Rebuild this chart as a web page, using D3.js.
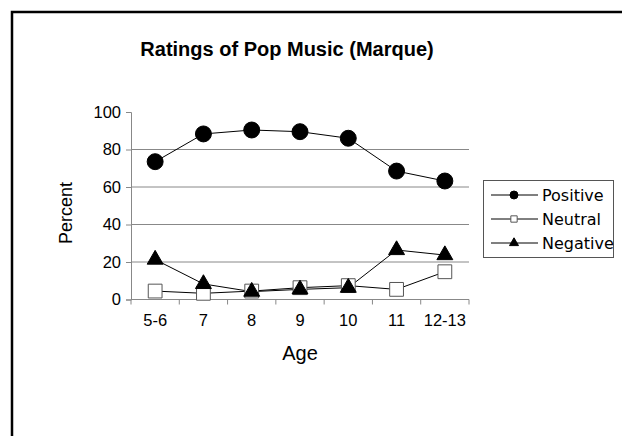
<!DOCTYPE html>
<html><head><meta charset="utf-8">
<script src="https://cdn.jsdelivr.net/npm/d3@7"></script>
<style>html,body{margin:0;padding:0;background:#fff;}</style>
</head><body>
<script>
const ages = ["5-6","7","8","9","10","11","12-13"];
const positive = [73.5, 88.3, 90.4, 89.5, 86.0, 68.5, 63.2];
const neutral  = [4.5, 3.3, 4.5, 6.3, 7.4, 5.4, 14.8];
const negative = [21.3, 8.3, 4.2, 5.4, 6.3, 26.4, 23.7];
const yTicks = [0, 20, 40, 60, 80, 100];
const seriesNames = ["Positive","Neutral","Negative"];

const W = 622, H = 436;
const svg = d3.select("body").append("svg").attr("width", W).attr("height", H);
const font = "'Liberation Sans', Arial, sans-serif";
const legFont = "'DejaVu Sans', sans-serif";

// frame
svg.append("path").attr("d", `M12,${H+5} L12,12 L${W+5},12`).attr("fill","none").attr("stroke","#000").attr("stroke-width",2.5);

const x = d3.scaleBand().domain(ages).range([131, 469]);
const y = d3.scaleLinear().domain([0,100]).range([299.5, 112]);

// title
svg.append("text").attr("x", 287).attr("y", 56).attr("text-anchor","middle")
  .attr("font-family",font).attr("font-weight","bold").attr("font-size",20)
  .text("Ratings of Pop Music (Marque)");

// gridlines
svg.append("g").selectAll("line").data(yTicks.filter(d => d > 0 && d < 100)).join("line")
  .attr("x1", 131).attr("x2", 469).attr("y1", d => y(d)).attr("y2", d => y(d))
  .attr("stroke","#888").attr("stroke-width",1);

// y axis
const yAxis = svg.append("g").attr("transform","translate(131,0)")
  .call(d3.axisLeft(y).tickValues(yTicks).tickSize(5).tickPadding(5));
yAxis.select(".domain").attr("stroke","#888");
yAxis.selectAll(".tick line").attr("stroke","#888");
yAxis.selectAll("text").attr("font-family",font).attr("font-size",16.5).attr("fill","#000");

// x axis
const xAxis = svg.append("g").attr("transform","translate(0,299.5)")
  .call(d3.axisBottom(x).tickSize(0).tickPadding(15));
xAxis.select(".domain").attr("stroke","#888").attr("d","M131,0H469");
xAxis.selectAll("text").attr("font-family",font).attr("font-size",16.5).attr("fill","#000");
// boundary ticks
const bounds = ages.map(a => x(a)).concat([x(ages[ages.length-1]) + x.bandwidth()]);
xAxis.selectAll(".btick").data(bounds).join("line").attr("class","btick")
  .attr("x1", d => d).attr("x2", d => d).attr("y1", 0).attr("y2", 5).attr("stroke","#888");

// axis titles
svg.append("text").attr("transform","translate(72,213) rotate(-90)").attr("text-anchor","middle")
  .attr("font-family",font).attr("font-size",18).text("Percent");
svg.append("text").attr("x", 300).attr("y", 360).attr("text-anchor","middle")
  .attr("font-family",font).attr("font-size",20).text("Age");

const cx = a => x(a) + x.bandwidth()/2;
const line = d3.line().x((d,i) => cx(ages[i])).y(d => y(d));
const sym = {
  Positive: d3.symbol().type(d3.symbolCircle).size(200),
  Neutral: d3.symbol().type(d3.symbolSquare).size(190),
  Negative: d3.symbol().type(d3.symbolTriangle).size(110)
};
const fills = {Positive:"#000", Neutral:"#fff", Negative:"#000"};
const strokes = {Positive:"#000", Neutral:"#555", Negative:"#000"};
const data = {Positive: positive, Neutral: neutral, Negative: negative};

["Neutral","Positive","Negative"].forEach(name => {
  const vals = data[name];
  svg.append("path").attr("d", line(vals)).attr("fill","none").attr("stroke","#000").attr("stroke-width",1);
});
["Neutral","Positive","Negative"].forEach(name => {
  const vals = data[name];
  svg.append("g").selectAll("path").data(vals).join("path")
    .attr("transform",(d,i) => `translate(${cx(ages[i])},${y(d)})`)
    .attr("d", sym[name]()).attr("fill", fills[name]).attr("stroke", strokes[name]).attr("stroke-width",1);
});

// legend
const lg = svg.append("g");
lg.append("rect").attr("x",483.5).attr("y",180.5).attr("width",130).attr("height",77)
  .attr("fill","#fff").attr("stroke","#555").attr("stroke-width",1);
const legSym = {
  Positive: d3.symbol().type(d3.symbolCircle).size(50),
  Neutral: d3.symbol().type(d3.symbolSquare).size(40),
  Negative: d3.symbol().type(d3.symbolTriangle).size(35)
};
seriesNames.forEach((name,i) => {
  const ly = 195 + i*24;
  lg.append("line").attr("x1",491).attr("x2",538).attr("y1",ly).attr("y2",ly).attr("stroke","#000");
  lg.append("path").attr("transform",`translate(514,${ly})`).attr("d",legSym[name]())
    .attr("fill",fills[name]).attr("stroke",strokes[name]);
  lg.append("text").attr("x",542).attr("y",ly+6).attr("font-family",legFont).attr("font-size",16).text(name);
});
</script>
</body></html>
